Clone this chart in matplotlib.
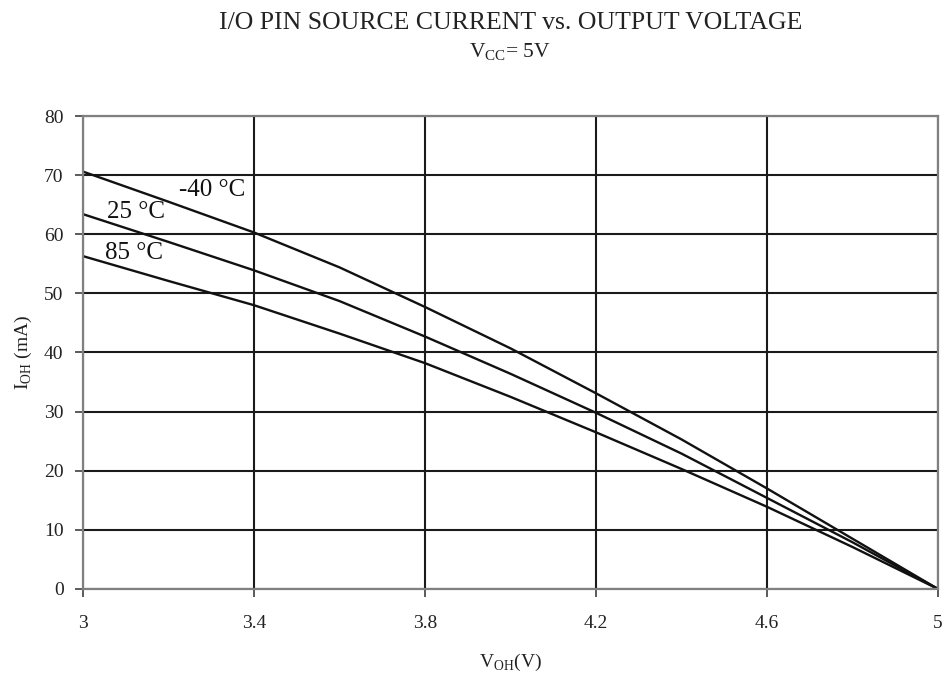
import matplotlib
matplotlib.use("Agg")
import matplotlib.pyplot as plt
import numpy as np

plt.rcParams["font.family"] = ["Liberation Serif", "DejaVu Serif"]
plt.rcParams["mathtext.fontset"] = "custom"
plt.rcParams["mathtext.rm"] = "Liberation Serif"

# output voltage (V) and source current (mA) per temperature
v_oh = [3.0, 3.2, 3.4, 3.6, 3.8, 4.0, 4.2, 4.4, 4.6, 4.8, 5.0]
i_m40 = [70.6, 65.5, 60.3, 54.4, 47.7, 40.7, 33.1, 25.3, 17.0, 8.5, 0.0]
i_25 = [63.4, 58.7, 53.9, 48.7, 42.7, 36.4, 29.8, 22.9, 15.4, 7.9, 0.0]
i_85 = [56.3, 52.1, 48.0, 43.2, 38.2, 32.5, 26.5, 20.3, 13.9, 7.1, 0.0]

curve_labels = ["-40 °C", "25 °C", "85 °C"]
label_pos = [(3.225, 67.4), (3.056, 63.7), (3.051, 56.9)]

xticks = [3, 3.4, 3.8, 4.2, 4.6, 5]
xticklabels = ["3", "3.4", "3.8", "4.2", "4.6", "5"]
yticks = np.arange(0, 81, 10)

fig = plt.figure(figsize=(9.45, 6.78), dpi=100)
ax = fig.add_axes([0.0878, 0.1313, 0.9048, 0.6976])

for ys in (i_m40, i_25, i_85):
    ax.plot(v_oh, ys, color="#111111", lw=1.7, zorder=2)

for txt, (x, y) in zip(curve_labels, label_pos):
    ax.text(x, y, txt, fontsize=18, va="center", ha="left", color="#111111")

ax.set_xlim(3, 5)
ax.set_ylim(0, 80)
ax.set_xticks(xticks)
ax.set_xticklabels(xticklabels)
ax.set_yticks(yticks)

ax.grid(True, color="#1a1a1a", lw=1.5)
for s in ax.spines.values():
    s.set_color("#808080")
    s.set_linewidth(1.6)
    s.set_zorder(3)

ax.tick_params(axis="both", direction="out", length=6, width=1.2,
               color="#404040", labelsize=14, labelcolor="#222222")
ax.tick_params(axis="x", pad=13)
ax.tick_params(axis="y", pad=8)

ax.set_xlabel(r"V$_{\mathregular{OH}}$(V)", fontsize=14, labelpad=14, color="#222222")
ax.set_ylabel(r"I$_{\mathregular{OH}}$ (mA)", fontsize=14, labelpad=7, color="#222222")

fig.text(0.540, 0.957, "I/O PIN SOURCE CURRENT vs. OUTPUT VOLTAGE",
         ha="center", va="baseline", fontsize=18.5, color="#222222")
fig.text(0.540, 0.916, r"V$_{\mathregular{CC}}$= 5V",
         ha="center", va="baseline", fontsize=15.5, color="#222222")

fig.savefig("out.png", dpi=100)
